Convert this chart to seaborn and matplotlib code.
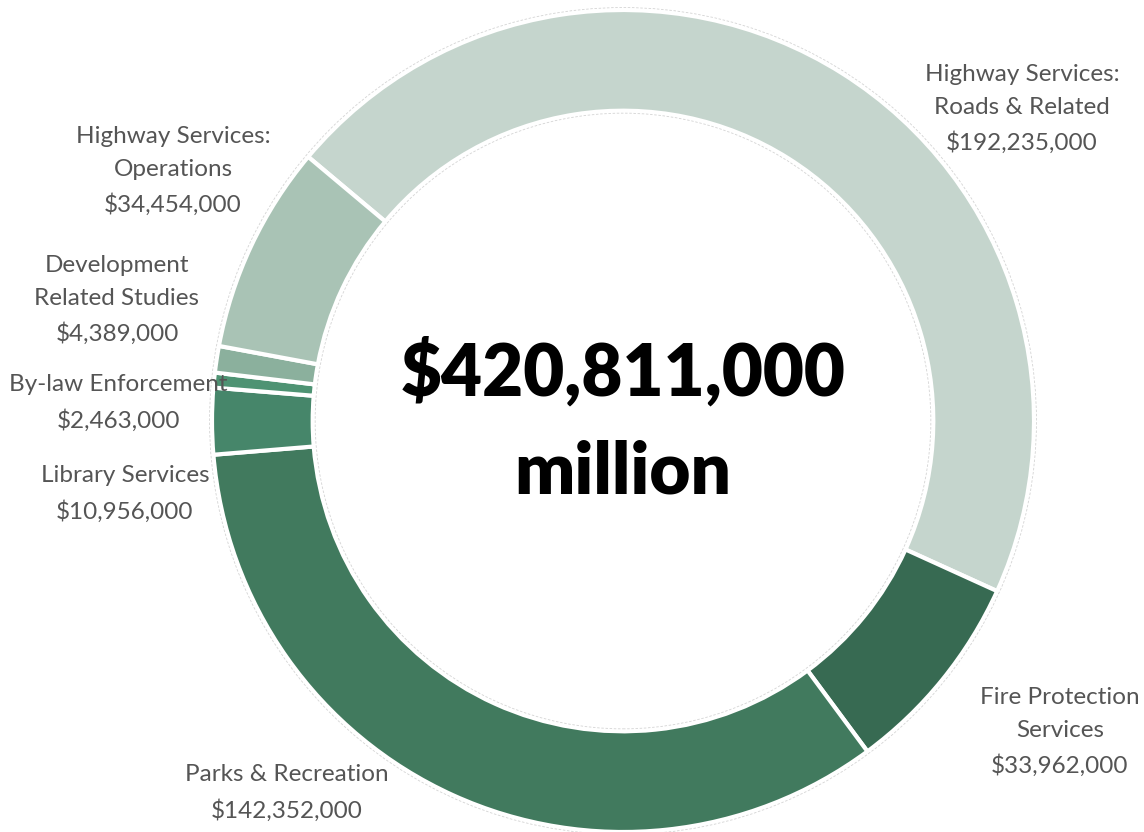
import matplotlib
matplotlib.use("Agg")
import matplotlib.pyplot as plt
from matplotlib.patches import Circle
import seaborn as sns

# Budget categories, clockwise from the top-left
categories = [
    "Highway Services:\nRoads & Related",
    "Fire Protection\nServices",
    "Parks & Recreation",
    "Library Services",
    "By-law Enforcement",
    "Development\nRelated Studies",
    "Highway Services:\nOperations",
]
amounts = [192235000, 33962000, 142352000, 10956000, 2463000, 4389000, 34454000]
colors = ["#c5d5cd", "#376a52", "#417a5e", "#46866a", "#4e9373", "#8bb09d", "#a9c3b5"]

total_label = "${:,}\nmillion".format(sum(amounts))

sns.set_theme(style="white")
plt.rcParams["font.family"] = ["Lato", "DejaVu Sans"]

W, H = 1144, 832
cx, cy, R = 623, 421, 411
fig = plt.figure(figsize=(W / 100, H / 100), dpi=100)
ax = fig.add_axes([0, 0, 1, 1])

ring = 0.245
wedges, _ = ax.pie(
    amounts,
    colors=colors,
    startangle=140,
    counterclock=False,
    radius=1.0,
    wedgeprops=dict(width=ring, edgecolor="white", linewidth=3),
)

# pie() resets the limits, so fix the view afterwards
ax.set_xlim(-cx / R, (W - cx) / R)
ax.set_ylim(-(H - cy) / R, cy / R)
ax.set_aspect("equal")
ax.axis("off")

# faint outlines around the ring
for r in (1.006, 1.0 - ring - 0.006):
    ax.add_patch(Circle((0, 0), r, fill=False, edgecolor="#d4d4d4",
                        linewidth=0.6, linestyle=(0, (3, 2))))

# label positions in pixel space (center of each text block)
label_px = [
    (1022, 109),
    (1060, 732),
    (287, 793),
    (125, 494),
    (118, 403),
    (117, 300),
    (173, 171),
]
for name, amt, (px, py) in zip(categories, amounts, label_px):
    ax.text((px - cx) / R, (cy - py) / R, f"{name}\n${amt:,}",
            ha="center", va="center", fontsize=17.5, color="#555555",
            fontweight="normal", linespacing=1.72)

ax.text(0, (cy - 421) / R, total_label, ha="center", va="center",
        fontsize=51, fontweight="heavy", color="black", linespacing=1.6)

fig.savefig("out.png", dpi=100, facecolor="white")
